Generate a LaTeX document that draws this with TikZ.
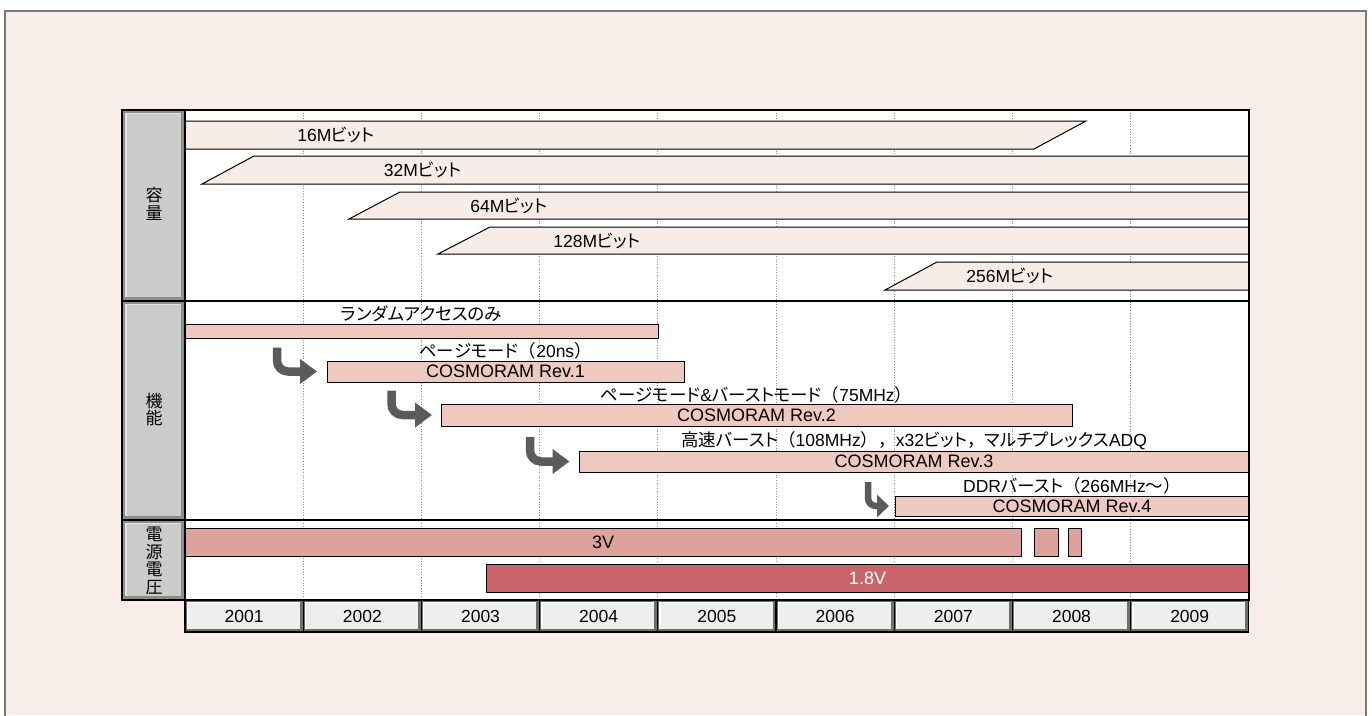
\documentclass[tikz,border=0pt]{standalone}
\usepackage{fontspec}
\setmainfont{Liberation Sans}
\newfontfamily\jp[RawFeature=+palt]{Noto Sans CJK JP}
\newfontfamily\jf{Noto Sans CJK JP}
\usetikzlibrary{arrows.meta}
\definecolor{bgc}{HTML}{F8EDE8}
\definecolor{capc}{HTML}{F8ECE8}
\definecolor{funcc}{HTML}{EDC9C0}
\definecolor{vthree}{HTML}{DDA29B}
\definecolor{vlow}{HTML}{C9646A}
\definecolor{arrc}{HTML}{5B5B5B}
\definecolor{framec}{HTML}{7A7A7A}
\definecolor{cellmid}{HTML}{CBCBCB}
\definecolor{celldark}{HTML}{8C8C8C}
\definecolor{celllight}{HTML}{E4E4E4}
\definecolor{yearmid}{HTML}{EEEEEE}
\definecolor{yeardark}{HTML}{6E6E6E}
\definecolor{gridc}{HTML}{8A8A8A}
\begin{document}
\begin{tikzpicture}[x=1pt,y=-1pt,
  txt/.style={font=\fontsize{17.5}{19}\selectfont, inner sep=0pt},
  capbar/.style={draw=black, line width=1pt, fill=capc},
  bar/.style={draw=black, line width=1pt, inner sep=0pt, outer sep=0pt,
    font=\fontsize{18}{19}\selectfont},
  fbar/.style={bar, fill=funcc},
  side/.style={font=\jf\fontsize{17}{17.5}\selectfont, align=center, inner sep=0pt},
  flow/.style={arrc, line width=8.5pt, rounded corners=11pt,
    -{Triangle[length=17pt,width=24pt]}},
  flowsmall/.style={arrc, line width=6.5pt, rounded corners=8pt,
    -{Triangle[length=12pt,width=22pt]}}]
\useasboundingbox (0,0) rectangle (1372,715);
% outer frame
\fill[white] (0,0) rectangle (1372,715);
\fill[bgc] (5,11) rectangle (1366,715);
\draw[framec, line width=1.3pt] (5,716) -- (5,11) -- (1366,11) -- (1366,716);
% chart area
\fill[white] (185,110) rectangle (1249,600);
\foreach \k in {1,...,8}
  \draw[gridc, dotted, line width=0.7pt] ({185+118.2*\k},110) -- ({185+118.2*\k},600);
% capacity bars
\draw[capbar] (185,121) -- (1086,121) -- (1034,149) -- (185,149) -- cycle;
\draw[capbar] (254,156) -- (1249,156) -- (1249,184) -- (202,184) -- cycle;
\draw[capbar] (400,192) -- (1249,192) -- (1249,219) -- (349,219) -- cycle;
\draw[capbar] (490,227) -- (1249,227) -- (1249,254) -- (438,254) -- cycle;
\draw[capbar] (937,262) -- (1249,262) -- (1249,290) -- (885,290) -- cycle;
\node[txt] (t16) at (336,135) {16M{\jp ビット}};
\node[txt] (t32) at (422.5,170) {32M{\jp ビット}};
\node[txt] (t64) at (509,206) {64M{\jp ビット}};
\node[txt] (t128) at (597,240.5) {128M{\jp ビット}};
\node[txt] (t256) at (1010,276) {256M{\jp ビット}};
% function bars
\node[fbar, minimum width=473pt, minimum height=14pt] (rand) at (421.5,331) {};
\node[txt] (lrand) at (421.5,314) {\jp ランダムアクセスのみ};
\node[fbar, minimum width=357pt, minimum height=21pt] (rev1) at (505.5,371.5) {COSMORAM Rev.1};
\node[txt] (l1) at (505.5,350.5) {{\jp ページモード}{\jf （}20ns{\jf ）}};
\node[fbar, minimum width=631pt, minimum height=22pt] (rev2) at (756.5,415) {COSMORAM Rev.2};
\node[txt] (l2) at (756.5,394.5) {{\jp ページモード}\&{\jp バーストモード}{\jf （}75MHz{\jf ）}};
\node[fbar, minimum width=670pt, minimum height=21pt] (rev3) at (914,461.5) {COSMORAM Rev.3};
\node[txt] (l3) at (914,440.5) {{\jp 高速バースト}{\jf （}108MHz{\jf ），}x32{\jp ビット}{\jf ，}{\jp マルチプレックス}ADQ};
\node[fbar, minimum width=354pt, minimum height=20pt] (rev4) at (1072,506) {COSMORAM Rev.4};
\node[txt] (l4) at (1072,485.5) {DDR{\jp バースト}{\jf （}266MHz{\jf ～）}};
% arrows
\coordinate (a1) at (277,347.5);
\coordinate (a2) at (391.5,390.5);
\coordinate (a3) at (530,437);
\coordinate (a4) at (868,482);
\draw[flow] (a1) |- ([xshift=-10pt]rev1.west);
\draw[flow] (a2) |- ([xshift=-9pt]rev2.west);
\draw[flow] (a3) |- ([xshift=-9.5pt]rev3.west);
\draw[flowsmall] (a4) |- ([xshift=-6pt]rev4.west);
% voltage bars
\node[bar, fill=vthree, minimum width=836pt, minimum height=28pt] (v3) at (603,542) {3V};
\node[bar, fill=vthree, minimum width=24pt, minimum height=28pt] (v3b) at (1046,542) {};
\node[bar, fill=vthree, minimum width=13pt, minimum height=28pt] (v3c) at (1074.5,542) {};
\node[bar, fill=vlow, text=white, minimum width=763pt, minimum height=28pt] (v18) at (867.5,578) {1.8V};
% side label cells
\foreach \ya/\yb in {110/301, 301/520, 520/600}{
  \fill[celldark] (123,\ya+1) rectangle (184,\yb-1);
  \fill[celllight] (125,\ya+2.5) rectangle (181,\yb-4);
  \fill[cellmid] (127,\ya+4) rectangle (181,\yb-4);
}
\node[side] (scap) at (154,204) {容\\量};
\node[side] (sfunc) at (154,409.5) {機\\能};
\node[side] (svolt) at (154,561) {電\\源\\電\\圧};
% year cells
\foreach \k [count=\i from 0] in {2001,...,2009}{
  \pgfmathsetmacro{\xa}{185+118.2*\i}
  \pgfmathsetmacro{\xb}{185+118.2*(\i+1)}
  \fill[yeardark] (\xa,600) rectangle (\xb,632);
  \fill[white] (\xa+1.5,601.5) rectangle (\xb-3.5,628.5);
  \fill[yearmid] (\xa+3,603) rectangle (\xb-3.5,628.5);
  \draw[black, line width=1.2pt] (\xa,600) rectangle (\xb,632);
  \node[txt] (y\k) at ({(\xa+\xb)/2},616) {\k};
}
% borders
\draw[black, line width=1.3pt] (122,110) rectangle (1249,600);
\draw[black, line width=1.3pt] (185,110) -- (185,600);
\draw[black, line width=1.3pt] (122,301) -- (1249,301);
\draw[black, line width=1.3pt] (122,520) -- (1249,520);
\end{tikzpicture}
\end{document}
